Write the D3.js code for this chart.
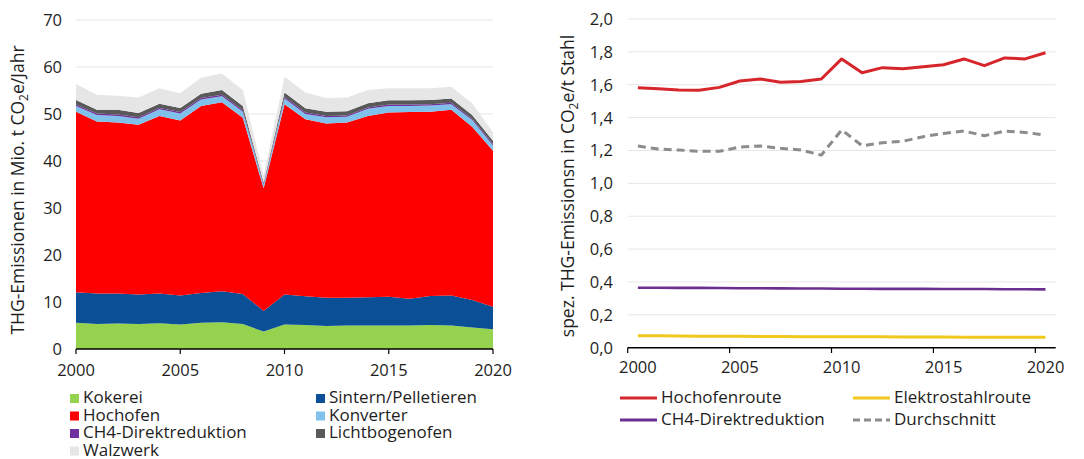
<!doctype html>
<html>
<head>
<meta charset="utf-8">
<script src="https://cdn.jsdelivr.net/npm/d3@7"></script>
<style>
  body { margin: 0; background: #fff; }
  svg { display: block; font-family: "Open Sans", sans-serif; }
  text { fill: #1e1e1e; }
</style>
</head>
<body>
<svg id="chart" width="1084" height="459"></svg>
<script>
  var years = d3.range(2000, 2021);

  // left chart: stacked emissions, Mio. t CO2e/Jahr
  var kokerei = [5.6, 5.3, 5.4, 5.3, 5.5, 5.2, 5.6, 5.7, 5.3, 3.7, 5.2, 5.1, 4.9, 5.0, 5.0, 5.0, 5.0, 5.1, 5.0, 4.6, 4.2];
  var sintern = [6.5, 6.5, 6.4, 6.3, 6.3, 6.2, 6.3, 6.6, 6.4, 4.4, 6.4, 6.1, 6.0, 5.9, 6.0, 6.1, 5.7, 6.2, 6.4, 5.8, 4.8];
  var hochofen = [38.4, 36.6, 36.4, 36.1, 37.8, 37.2, 39.8, 40.2, 37.5, 26.1, 40.5, 37.7, 37.1, 37.3, 38.6, 39.2, 39.7, 39.2, 39.5, 36.9, 33.2];
  var konverter = [1.2, 1.4, 1.4, 1.3, 1.4, 1.5, 1.4, 1.3, 1.3, 0.7, 1.2, 1.1, 1.3, 1.2, 1.5, 1.4, 1.3, 1.3, 1.2, 1.4, 1.1];
  var ch4Dr = [0.3, 0.3, 0.3, 0.3, 0.3, 0.3, 0.3, 0.3, 0.3, 0.2, 0.3, 0.3, 0.3, 0.3, 0.3, 0.3, 0.3, 0.3, 0.3, 0.3, 0.3];
  var lichtbogen = [1.0, 0.8, 1.0, 0.9, 0.9, 0.9, 0.9, 1.0, 0.9, 0.3, 1.0, 0.9, 0.9, 0.9, 0.9, 0.9, 0.9, 0.9, 0.9, 0.8, 0.7];
  var walzwerk = [3.4, 3.2, 3.0, 3.3, 3.3, 3.1, 3.4, 3.5, 3.4, 1.5, 3.3, 3.4, 2.9, 2.9, 2.8, 2.6, 2.6, 2.5, 2.5, 2.5, 1.8];

  var areaKeys = ['Kokerei', 'Sintern/Pelletieren', 'Hochofen', 'Konverter', 'CH4-Direktreduktion', 'Lichtbogenofen', 'Walzwerk'];
  var areaSeries = [kokerei, sintern, hochofen, konverter, ch4Dr, lichtbogen, walzwerk];
  var areaColors = ['#95d34f', '#0b4f96', '#ff0000', '#7fc1ea', '#7030a0', '#595959', '#e6e6e6'];
  var leftTicks = [0, 10, 20, 30, 40, 50, 60, 70];

  // right chart: spez. emissions, t CO2e/t Stahl
  var hochofenroute = [1.582, 1.576, 1.568, 1.566, 1.584, 1.623, 1.635, 1.615, 1.620, 1.635, 1.757, 1.673, 1.704, 1.698, 1.710, 1.722, 1.757, 1.716, 1.763, 1.757, 1.795];
  var elektrostahl = [0.073, 0.072, 0.071, 0.070, 0.070, 0.069, 0.068, 0.068, 0.067, 0.067, 0.066, 0.066, 0.066, 0.065, 0.065, 0.065, 0.064, 0.064, 0.064, 0.063, 0.063];
  var ch4Route = [0.365, 0.365, 0.364, 0.364, 0.363, 0.362, 0.362, 0.361, 0.360, 0.360, 0.359, 0.359, 0.358, 0.358, 0.358, 0.357, 0.357, 0.357, 0.356, 0.356, 0.355];
  var durchschnitt = [1.227, 1.209, 1.203, 1.195, 1.195, 1.221, 1.227, 1.213, 1.203, 1.172, 1.325, 1.229, 1.247, 1.256, 1.284, 1.304, 1.318, 1.290, 1.318, 1.310, 1.294];
  var rightTicks = [0, 0.2, 0.4, 0.6, 0.8, 1.0, 1.2, 1.4, 1.6, 1.8, 2.0];
  var xTickYears = [2000, 2005, 2010, 2015, 2020];

  var lineSeries = [
    { name: 'Hochofenroute', values: hochofenroute, color: '#d7262b', width: 3, dash: null },
    { name: 'Elektrostahlroute', values: elektrostahl, color: '#f0c81e', width: 3, dash: null },
    { name: 'CH4-Direktreduktion', values: ch4Route, color: '#6b2e91', width: 2.6, dash: null },
    { name: 'Durchschnitt', values: durchschnitt, color: '#8c8c8c', width: 3, dash: '8,5' }
  ];

  var svg = d3.select('#chart');
  var fmtComma = function (d) { return d.toFixed(1).replace('.', ','); };

  function axisTitle(g, x, y, before, after) {
    var t = g.append('text')
      .attr('transform', 'translate(' + x + ',' + y + ') rotate(-90)')
      .attr('text-anchor', 'middle')
      .style('font-size', '17.5px');
    t.append('tspan').text(before + 'CO');
    t.append('tspan').attr('dy', 4).style('font-size', '12px').text('2');
    t.append('tspan').attr('dy', -4).text(after);
  }

  // ---------- left chart ----------
  var left = svg.append('g');
  var xL = d3.scaleLinear().domain([2000, 2020]).range([76, 493]);
  var yL = d3.scaleLinear().domain([0, 70]).range([349, 20]);

  left.selectAll('line.grid').data(leftTicks.slice(1)).enter().append('line')
    .attr('x1', xL(2000)).attr('x2', xL(2020))
    .attr('y1', function (d) { return yL(d); }).attr('y2', function (d) { return yL(d); })
    .attr('stroke', '#e6e6e6').attr('stroke-width', 1);

  var rows = years.map(function (yr, i) {
    var r = { year: yr };
    areaKeys.forEach(function (k, j) { r[k] = areaSeries[j][i]; });
    return r;
  });
  var stacked = d3.stack().keys(areaKeys)(rows);
  var area = d3.area()
    .x(function (d) { return xL(d.data.year); })
    .y0(function (d) { return yL(d[0]); })
    .y1(function (d) { return yL(d[1]); });

  left.selectAll('path.layer').data(stacked).enter().append('path')
    .attr('d', area)
    .attr('fill', function (d, i) { return areaColors[i]; });

  left.selectAll('text.ytick').data(leftTicks).enter().append('text')
    .attr('x', 62).attr('y', function (d) { return yL(d) + 6; })
    .attr('text-anchor', 'end').style('font-size', '16.5px')
    .text(function (d) { return d; });

  left.append('line')
    .attr('x1', xL(2000)).attr('x2', xL(2020)).attr('y1', 349).attr('y2', 349)
    .attr('stroke', '#000').attr('stroke-width', 1.5);
  left.selectAll('line.xtick').data(xTickYears).enter().append('line')
    .attr('x1', function (d) { return xL(d); }).attr('x2', function (d) { return xL(d); })
    .attr('y1', 349).attr('y2', 354).attr('stroke', '#000').attr('stroke-width', 1.2);
  left.selectAll('text.xtick').data(xTickYears).enter().append('text')
    .attr('x', function (d) { return xL(d); }).attr('y', 376)
    .attr('text-anchor', 'middle').style('font-size', '16.5px')
    .text(function (d) { return d; });

  axisTitle(left, 24, 190, 'THG-Emissionen in Mio. t ', 'e/Jahr');

  var legL = left.selectAll('g.leg').data(areaKeys).enter().append('g')
    .attr('transform', function (d, i) {
      var col = i % 2, row = Math.floor(i / 2);
      return 'translate(' + (col === 0 ? 70 : 316) + ',' + (403 + row * 17.5) + ')';
    });
  legL.append('rect').attr('x', 0).attr('y', -9).attr('width', 9).attr('height', 9)
    .attr('fill', function (d, i) { return areaColors[i]; });
  legL.append('text').attr('x', 13).attr('y', 0).style('font-size', '17px')
    .text(function (d) { return d; });

  // ---------- right chart ----------
  var right = svg.append('g');
  var xR = d3.scaleBand().domain(years).range([627.7, 1055.7]).padding(0);
  var yR = d3.scaleLinear().domain([0, 2]).range([347.7, 19]);
  var cx = function (yr) { return xR(yr) + xR.bandwidth() / 2; };

  right.selectAll('line.grid').data(rightTicks.slice(1)).enter().append('line')
    .attr('x1', 627.7).attr('x2', 1055.7)
    .attr('y1', function (d) { return yR(d); }).attr('y2', function (d) { return yR(d); })
    .attr('stroke', '#e6e6e6').attr('stroke-width', 1);

  right.selectAll('text.ytick').data(rightTicks).enter().append('text')
    .attr('x', 613).attr('y', function (d) { return yR(d) + 6; })
    .attr('text-anchor', 'end').style('font-size', '16.5px')
    .text(fmtComma);

  var line = d3.line()
    .x(function (d, i) { return cx(years[i]); })
    .y(function (d) { return yR(d); });

  right.selectAll('path.series').data(lineSeries).enter().append('path')
    .attr('d', function (s) { return line(s.values); })
    .attr('fill', 'none')
    .attr('stroke', function (s) { return s.color; })
    .attr('stroke-width', function (s) { return s.width; })
    .attr('stroke-dasharray', function (s) { return s.dash; })
    .attr('stroke-linejoin', 'round');

  right.append('line')
    .attr('x1', 627.7).attr('x2', 1055.7).attr('y1', 347.7).attr('y2', 347.7)
    .attr('stroke', '#000').attr('stroke-width', 1.5);
  right.selectAll('line.xtick').data(xTickYears).enter().append('line')
    .attr('x1', function (d) { return xR(d); }).attr('x2', function (d) { return xR(d); })
    .attr('y1', 347.7).attr('y2', 353).attr('stroke', '#000').attr('stroke-width', 1.2);
  right.selectAll('text.xtick').data(xTickYears).enter().append('text')
    .attr('x', function (d) { return cx(d); }).attr('y', 373)
    .attr('text-anchor', 'middle').style('font-size', '16.5px')
    .text(function (d) { return d; });

  axisTitle(right, 574, 186, 'spez. THG-Emissionsn in ', 'e/t Stahl');

  var legR = right.selectAll('g.leg').data(lineSeries).enter().append('g')
    .attr('transform', function (d, i) {
      var col = i % 2, row = Math.floor(i / 2);
      return 'translate(' + (col === 0 ? 620 : 853) + ',' + (403 + row * 22) + ')';
    });
  legR.append('line').attr('x1', 0).attr('x2', 37).attr('y1', -5).attr('y2', -5)
    .attr('stroke', function (s) { return s.color; })
    .attr('stroke-width', 3)
    .attr('stroke-dasharray', function (s) { return s.dash ? '7,4' : null; });
  legR.append('text').attr('x', 41).attr('y', 0).style('font-size', '17px')
    .text(function (s) { return s.name; });
</script>
</body>
</html>
